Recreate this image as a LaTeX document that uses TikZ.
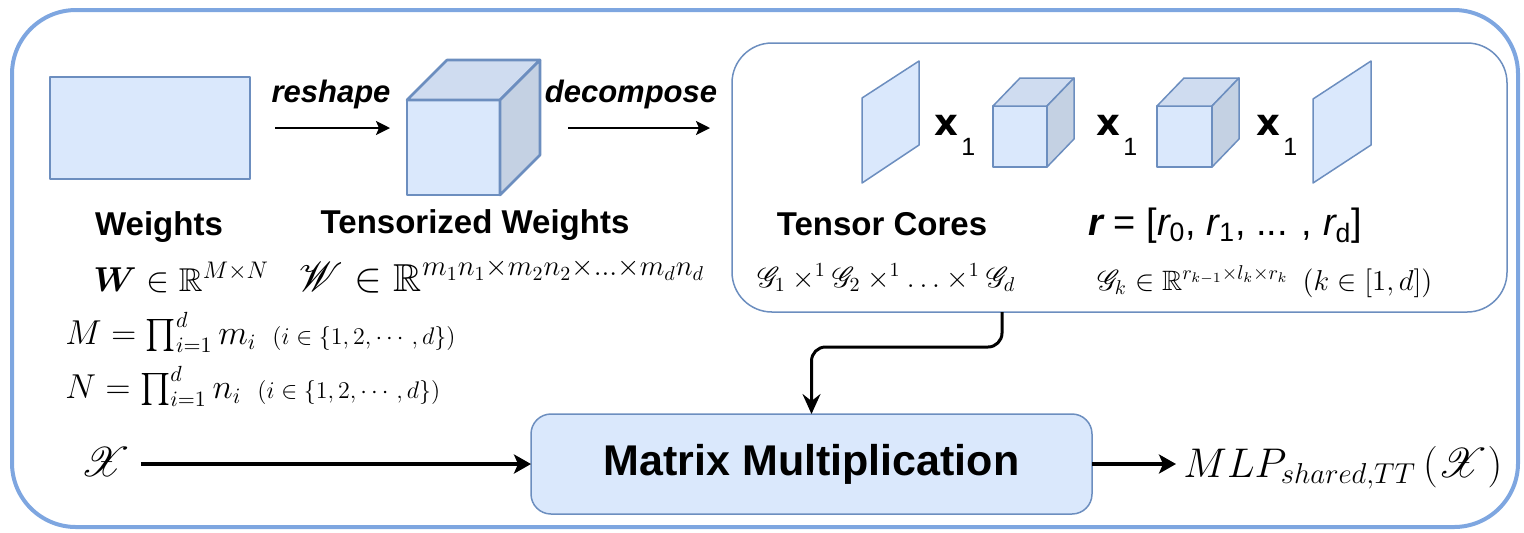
\documentclass[tikz,border=0pt]{standalone}
\usepackage{amsmath}
\usepackage{amssymb}
\usepackage{mathrsfs}
\usepackage{bm}
\usepackage[no-math]{fontspec}
\setmainfont{Liberation Serif}
\newfontfamily\sfarial{Liberation Sans}
\newfontfamily\heavysans{DejaVu Sans}
\usetikzlibrary{arrows.meta}

\definecolor{cfill}{HTML}{DAE8FC}
\definecolor{cline}{HTML}{6C8EBF}
\definecolor{ctop}{HTML}{CFDCF0}
\definecolor{cside}{HTML}{C4D1E3}
\definecolor{cframe}{HTML}{7EA6E0}

\newcommand{\fsz}[1]{\fontsize{#1}{#1}\selectfont}

\tikzset{
  frame/.style={draw=cframe, line width=2pt, rounded corners=32pt},
  bigshape/.style={draw=cline, fill=cfill, line width=1.3pt, line join=round},
  smallshape/.style={draw=cline, fill=cfill, line width=0.75pt, line join=round},
  facebox/.style={rectangle, outer sep=0pt, inner sep=0pt},
  corebox/.style={rectangle, draw=cline, line width=0.75pt, rounded corners=20pt,
    outer sep=0pt, minimum width=387.5pt, minimum height=134.5pt},
  mulbox/.style={rectangle, draw=cline, fill=cfill, line width=0.75pt, rounded corners=10pt,
    outer sep=0pt, minimum width=280.5pt, minimum height=50pt,
    font=\sfarial\bfseries\fsz{21.5}},
  title/.style={inner sep=0pt, anchor=base, font=\sfarial\bfseries\fsz{16.5}},
  verb/.style={inner sep=0pt, anchor=base, font=\sfarial\bfseries\itshape\fsz{15.5}},
  eq/.style={inner sep=0pt, anchor=base west},
  thinarrow/.style={line width=1pt, -{Stealth[length=7pt,width=7pt,inset=1.5pt]}},
  thickarrow/.style={line width=2pt, -{Stealth[length=8.5pt,width=9.5pt,inset=2pt]}},
  feed/.style={line width=1.5pt, rounded corners=7pt, -{Stealth[length=10pt,width=9pt,inset=3.5pt]}},
  modeprod/.style={inner sep=0pt, anchor=base west}
}

\newcommand{\modeone}{{\heavysans\bfseries\fsz{18.5}x}\hspace{1.5pt}\raisebox{-10pt}{\sfarial\fsz{12.5}1}}

\begin{document}
\begin{tikzpicture}[x=0.5pt,y=-0.5pt]
\useasboundingbox (0,0) rectangle (1524,532);

% outer container
\draw[frame] (12,10) rectangle (1518,527);

% weight matrix
\node[facebox, bigshape, minimum width=100pt, minimum height=51pt] (w) at (150,128) {};

% tensorized weights: a cube
\node[facebox, bigshape, minimum width=46.5pt, minimum height=47.5pt] (tw) at (453.5,147.5) {};
\draw[bigshape, fill=ctop] (tw.north west) -- ++(40,-40) -- ++(93,0) -- (tw.north east) -- cycle;
\draw[bigshape, fill=cside] (tw.north east) -- ++(40,-40) -- ++(0,95) -- (tw.south east) -- cycle;
\path (tw.north east) ++(40,0) coordinate (twr);

% tensor cores container
\node[corebox] (tc) at (1119.5,177.5) {};

% first and last cores: slanted planes
\draw[smallshape] (862,98) -- (919,61) -- (919,145) -- (862,183) -- cycle;
\draw[smallshape] (1313,99) -- (1371,61) -- (1371,145) -- (1313,183) -- cycle;

% middle cores: small cubes
\node[facebox, smallshape, minimum width=27pt, minimum height=30.5pt] (c2) at (1020,136.5) {};
\draw[smallshape, fill=ctop] (c2.north west) -- ++(27,-28) -- ++(54,0) -- (c2.north east) -- cycle;
\draw[smallshape, fill=cside] (c2.north east) -- ++(27,-28) -- ++(0,61) -- (c2.south east) -- cycle;
\node[facebox, smallshape, minimum width=27.5pt, minimum height=30.5pt] (c3) at (1184.5,136.5) {};
\draw[smallshape, fill=ctop] (c3.north west) -- ++(27,-28) -- ++(55,0) -- (c3.north east) -- cycle;
\draw[smallshape, fill=cside] (c3.north east) -- ++(27,-28) -- ++(0,61) -- (c3.south east) -- cycle;

% mode-1 products between the cores
\node[modeprod] (p1) at (934,135) {\modeone};
\node[modeprod] (p2) at (1096,135) {\modeone};
\node[modeprod] (p3) at (1256,135) {\modeone};

% step labels and arrows
\node[verb] (lrs) at (331,102) {reshape};
\node[verb] (ldc) at (631,102) {decompose};
\draw[thinarrow, shorten <=12.5pt, shorten >=8.5pt] (w.east) -- (w.east -| tw.west);
\draw[thinarrow, shorten <=14pt, shorten >=11pt] (w.east -| twr) -- (w.east -| tc.west);

% titles
\node[title] (lw) at (159,235) {Weights};
\node[title] (ltw) at (475,233) {Tensorized Weights};
\node[title] (ltc) at (882,235) {Tensor Cores};
\node[eq, font=\sfarial\fsz{19}] (lr) at (1088,235)
  {{\bfseries\itshape r} = [{\itshape r}\textsubscript{0}, {\itshape r}\textsubscript{1}, ... , {\itshape r}\textsubscript{d}]};

% formulas
\node[eq, font=\fsz{16.5}] (eqw) at (93,291) {$\bm{W} \in \mathbb{R}^{M\times N}$};
\node[eq, font=\fsz{19.5}] (eqtw) at (298,291)
  {$\mathscr{W} \in \mathbb{R}^{m_1n_1\times m_2n_2\times\ldots\times m_dn_d}$};
\node[eq, font=\fsz{16}] (eqm) at (65,344)
  {$M = \prod_{i=1}^{d} m_i$\ \ {\fsz{12.5}$(i \in \{1,2,\cdots,d\})$}};
\node[eq, font=\fsz{16}] (eqn) at (65,398)
  {$N = \prod_{i=1}^{d} n_i$\ \ {\fsz{12.5}$(i \in \{1,2,\cdots,d\})$}};
\node[eq, font=\fsz{14}] (eqg) at (757,287)
  {$\mathscr{G}_1 \times^1 \mathscr{G}_2 \times^1 \ldots \times^1 \mathscr{G}_d$};
\node[eq, font=\fsz{14}] (eqgk) at (1097,290)
  {$\mathscr{G}_k \in \mathbb{R}^{r_{k-1}\times l_k\times r_k}$\ \ $(k\in[1,d])$};

% data path
\node[mulbox] (mm) at (811.5,464) {Matrix Multiplication};
\node[eq, font=\fsz{22}] (xin) at (80,476) {$\mathscr{X}$};
\node[eq, font=\fsz{21}] (mlp) at (1183,477) {$MLP_{shared,TT}\left(\mathscr{X}\right)$};

\draw[thickarrow] (mm.west -| xin.east) ++(5pt,0) -- (mm.west);
\draw[thickarrow, shorten >=3.5pt] (mm.east) -- (mm.east -| mlp.west);
\draw[feed] ([xshift=-58.75pt]tc.south) -- ++(0,35) -| (mm.north);
\end{tikzpicture}
\end{document}
